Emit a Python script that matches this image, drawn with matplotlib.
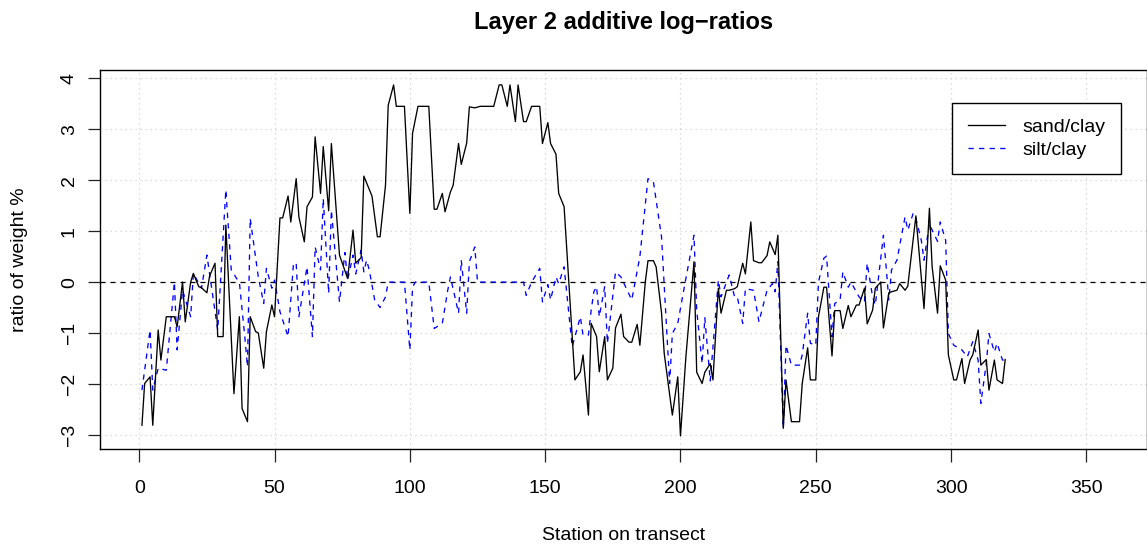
import matplotlib
matplotlib.use("Agg")
import matplotlib.pyplot as plt

plt.rcParams['font.family'] = ['Liberation Sans', 'DejaVu Sans']

# sand/clay log-ratio (station, value)
sand_x = [1, 2, 4, 5, 7, 8, 10, 13, 14, 16, 17, 19, 20, 22, 23, 25, 26, 28, 29, 31,
          32, 35, 37, 38, 40, 41, 43, 44, 46, 47, 49, 50, 52, 53, 55, 56, 58, 59, 61, 62,
          64, 65, 67, 68, 70, 71, 74, 77, 79, 80, 82, 83, 86, 88, 89, 91, 92, 94, 95, 98,
          100, 101, 103, 107, 109, 110, 112, 113, 115, 116, 118, 119, 121, 122, 124, 126, 131, 133, 134, 136,
          137, 139, 140, 142, 143, 145, 148, 149, 151, 152, 154, 155, 157, 161, 163, 164, 166, 167, 169, 170,
          172, 173, 175, 176, 178, 179, 181, 182, 184, 185, 187, 188, 190, 191, 193, 194, 197, 199, 200, 202,
          205, 206, 208, 209, 211, 212, 214, 215, 217, 218, 220, 221, 223, 224, 226, 227, 229, 230, 232, 233,
          235, 236, 238, 239, 241, 244, 245, 247, 248, 250, 251, 253, 254, 256, 257, 259, 260, 262, 263, 265,
          266, 268, 269, 271, 272, 274, 275, 277, 278, 280, 281, 283, 284, 287, 290, 292, 293, 295, 296, 298,
          299, 301, 302, 304, 305, 307, 308, 310, 311, 313, 314, 316, 317, 319, 320]
sand_y = [-2.81, -1.99, -1.86, -2.81, -0.94, -1.53, -0.68, -0.68, -0.88, 0.0, -0.78, 0.0, 0.17, -0.09, -0.11, -0.21, 0.12, 0.37, -1.07, -1.07,
          1.12, -2.19, -0.68, -2.48, -2.74, -0.68, -0.97, -1.0, -1.69, -0.97, -0.45, -0.68, 1.26, 1.26, 1.69, 1.18, 2.03, 1.28, 0.79, 1.48,
          1.67, 2.85, 1.74, 2.66, 1.40, 2.72, 0.53, 0.07, 1.02, 0.37, 0.48, 2.08, 1.69, 0.89, 0.89, 1.90, 3.47, 3.87, 3.45, 3.45,
          1.35, 2.92, 3.45, 3.45, 1.43, 1.43, 1.74, 1.38, 1.77, 1.90, 2.72, 2.31, 2.73, 3.44, 3.42, 3.45, 3.45, 3.87, 3.87, 3.45,
          3.87, 3.15, 3.87, 3.15, 3.15, 3.45, 3.45, 2.72, 3.13, 2.72, 2.51, 1.74, 1.48, -1.92, -1.76, -1.43, -2.61, -0.81, -1.07, -1.76,
          -1.07, -1.92, -1.69, -0.90, -0.63, -1.07, -1.18, -1.18, -0.83, -1.24, 0.0, 0.42, 0.42, 0.30, -0.60, -1.40, -2.61, -1.86, -3.02, -1.47,
          0.40, -1.77, -1.99, -1.77, -1.60, -1.92, -0.12, -0.61, -0.16, -0.16, -0.13, -0.09, 0.37, 0.16, 1.18, 0.42, 0.38, 0.38, 0.52, 0.79,
          0.54, 0.92, -2.87, -1.92, -2.74, -2.74, -1.99, -1.29, -1.92, -1.92, -0.68, -0.10, -0.10, -1.45, -0.56, -0.56, -0.91, -0.46, -0.68, -0.45,
          -0.45, -0.12, -0.82, -0.55, -0.12, 0.0, -0.90, -0.21, -0.19, -0.16, -0.03, -0.16, -0.08, 1.30, -0.52, 1.45, 0.30, -0.61, 0.32, 0.04,
          -1.43, -1.92, -1.92, -1.50, -1.99, -1.53, -1.43, -0.94, -1.63, -1.52, -2.12, -1.53, -1.92, -1.99, -1.52]

# silt/clay log-ratio (station, value)
silt_x = [1, 4, 5, 7, 10, 13, 14, 16, 19, 20, 23, 25, 29, 32, 34, 36, 37, 39, 40, 41,
          44, 46, 47, 49, 50, 52, 55, 57, 58, 59, 61, 62, 64, 65, 67, 68, 70, 71, 74, 76,
          77, 79, 80, 82, 83, 84, 85, 87, 89, 91, 92, 98, 100, 101, 102, 107, 109, 112, 114, 115,
          118, 119, 121, 122, 124, 125, 142, 143, 145, 148, 149, 151, 152, 154, 155, 157, 160, 163, 164, 166,
          167, 168, 169, 170, 172, 173, 176, 178, 182, 185, 188, 190, 193, 196, 197, 199, 202, 205, 206, 208,
          209, 211, 214, 215, 218, 220, 221, 223, 224, 227, 229, 232, 234, 235, 236, 238, 239, 241, 244, 245,
          247, 248, 250, 251, 253, 254, 256, 257, 259, 260, 262, 263, 266, 268, 269, 271, 272, 275, 276, 277,
          278, 280, 283, 284, 286, 287, 289, 290, 292, 293, 295, 296, 298, 299, 301, 304, 306, 308, 310, 311,
          313, 314, 316, 317, 319, 320]
silt_y = [-2.12, -0.94, -2.12, -1.69, -1.73, 0.0, -1.33, -0.16, -0.68, 0.17, -0.12, 0.53, -0.94, 1.81, 0.24, 0.07, 0.0, -1.07, -1.66, 1.25,
          0.10, -0.42, 0.27, -0.12, 0.04, -0.58, -1.07, 0.37, 0.37, -0.68, -0.03, 0.30, -1.07, 0.69, 0.24, 1.64, -0.22, 1.41, -0.39, 0.58,
          0.04, 0.53, 0.16, 0.63, 0.20, 0.43, 0.24, -0.35, -0.50, -0.29, 0.0, 0.0, -1.33, -0.10, 0.0, 0.0, -0.91, -0.81, -0.16, 0.10,
          -0.61, 0.43, -0.61, 0.40, 0.69, 0.0, 0.0, -0.26, 0.0, 0.27, -0.39, -0.05, -0.35, 0.10, -0.03, 0.30, -1.27, -0.68, -1.04, -1.04,
          -0.55, -0.19, -0.09, -0.68, -0.09, -1.20, 0.20, 0.10, -0.35, 0.50, 2.03, 1.97, 0.89, -1.99, -1.01, -0.81, 0.07, 0.92, -0.55, -1.60,
          -0.70, -1.94, 0.04, -0.29, 0.14, -0.29, -0.29, -0.81, -0.13, -0.16, -0.78, -0.16, -0.03, -0.19, 0.40, -2.87, -1.24, -1.63, -1.63, -1.43,
          -0.61, -1.20, -1.24, 0.0, 0.47, 0.51, -1.07, -0.42, -0.35, 0.20, -0.10, 0.0, -0.29, -0.39, 0.37, -0.29, -0.45, 0.92, 0.30, -0.35,
          0.24, 0.43, 1.28, 1.02, 1.35, 1.25, 0.82, 0.43, 1.15, 1.02, 0.80, 1.18, 0.82, -1.01, -1.24, -1.33, -1.47, -1.17, -1.53, -2.38,
          -1.60, -1.01, -1.37, -1.20, -1.53, -1.53]

x_ticks = [0, 50, 100, 150, 200, 250, 300, 350]
y_ticks = [-3, -2, -1, 0, 1, 2, 3, 4]

W, H = 1147, 545
fig = plt.figure(figsize=(W / 100, H / 100), dpi=100)
ax = fig.add_axes([100 / W, 1 - 449 / H, 1 - 100 / W, (449 - 70) / H])

# grid like R's grid(): dotted light gray
for xv in x_ticks:
    ax.axvline(xv, color="#D3D3D3", lw=0.9, ls=(0, (1, 3)), zorder=0)
for yv in y_ticks:
    ax.axhline(yv, color="#D3D3D3", lw=0.9, ls=(0, (1, 3)), zorder=0)
ax.axhline(0, color="black", lw=0.9, ls=(0, (4, 4)), zorder=1)

ax.plot(sand_x, sand_y, color="black", lw=0.95, label="sand/clay", zorder=3)
ax.plot(silt_x, silt_y, color="#0000FF", lw=0.95, ls=(0, (4, 4)), label="silt/clay", zorder=2)

ax.set_xlim(-14.5, 372.4)
ax.set_ylim(-3.276, 4.163)
ax.set_xticks(x_ticks)
ax.set_yticks(y_ticks)
ax.tick_params(axis="both", direction="out", length=9, width=0.9, labelsize=14, color="#222222")
ax.tick_params(axis="x", pad=13)
ax.tick_params(axis="y", pad=7, labelrotation=90)
for lab in ax.get_yticklabels():
    lab.set_va("center")
for s in ax.spines.values():
    s.set_linewidth(1.0)
    s.set_color("black")

leg = ax.legend(loc="upper left", bbox_to_anchor=(952 / W, 1 - 103 / H), bbox_transform=fig.transFigure,
                fontsize=14, frameon=True, fancybox=False, edgecolor="black", framealpha=1,
                borderpad=0.8, labelspacing=0.25, handlelength=1.9, handletextpad=0.9, borderaxespad=0)
leg.get_frame().set_linewidth(1.0)

fig.text(623.5 / W, 1 - 22 / H, "Layer 2 additive log\u2212ratios", ha="center", va="center",
         fontsize=17, fontweight="bold")
fig.text(623.5 / W, 1 - 535 / H, "Station on transect", ha="center", va="center", fontsize=14)
fig.text(20 / W, 1 - 259.5 / H, "ratio of weight %", ha="center", va="center", rotation=90, fontsize=14)

fig.savefig("out.png", dpi=100)
